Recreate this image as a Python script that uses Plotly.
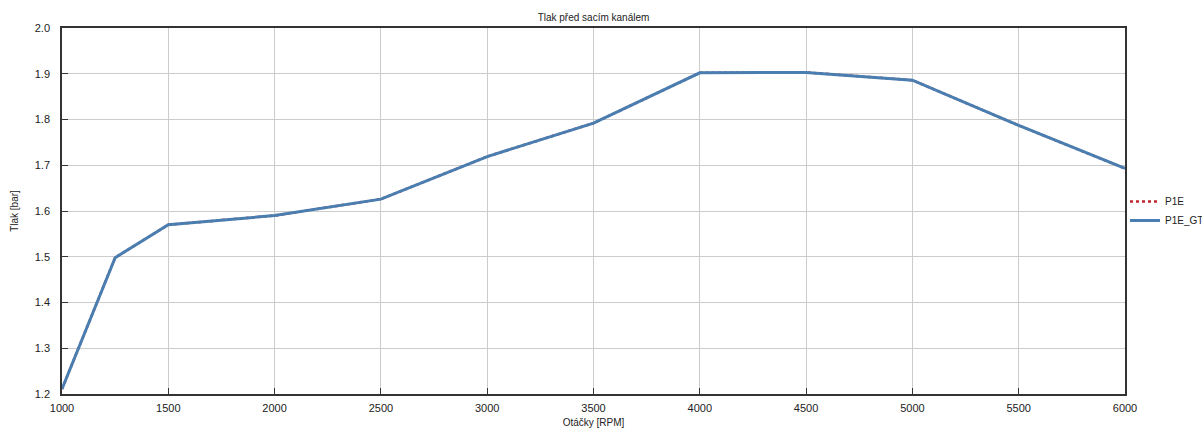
import plotly.graph_objects as go

rpm = [1000, 1250, 1500, 2000, 2500, 3000, 3500, 4000, 4500, 5000, 5500, 6000]
p1e = [1.211, 1.498, 1.570, 1.590, 1.626, 1.719, 1.792, 1.902, 1.903, 1.886, 1.787, 1.693]
p1e_gt = [1.211, 1.498, 1.570, 1.590, 1.626, 1.719, 1.792, 1.902, 1.903, 1.886, 1.787, 1.693]

x_ticks = [1000, 1500, 2000, 2500, 3000, 3500, 4000, 4500, 5000, 5500, 6000]
y_ticks = [1.2, 1.3, 1.4, 1.5, 1.6, 1.7, 1.8, 1.9, 2.0]

FONT = "Liberation Sans, Arial, sans-serif"

fig = go.Figure()
fig.add_trace(go.Scatter(x=rpm, y=p1e, mode="lines", name="P1E",
                         line=dict(color="#c0272d", width=2.5, dash="dot")))
fig.add_trace(go.Scatter(x=rpm, y=p1e_gt, mode="lines", name="P1E_GT",
                         line=dict(color="#4a7eb0", width=3)))

axis_common = dict(showgrid=True, gridcolor="#cccccc", gridwidth=1,
                   showline=True, linecolor="#333333", linewidth=1.5, mirror=True,
                   ticks="inside", ticklen=6, tickcolor="#333333", zeroline=False,
                   automargin=False,
                   tickfont=dict(family=FONT, size=11, color="#222222"))

fig.update_layout(
    width=1202, height=428,
    margin=dict(l=62, r=77, t=28, b=34, autoexpand=False),
    paper_bgcolor="white", plot_bgcolor="white",
    title=dict(text="Tlak před sacím kanálem", x=0.5, xref="paper", y=0.958, yanchor="middle",
               font=dict(family=FONT, size=10, color="#222222")),
    xaxis=dict(range=[1000, 6000], tickvals=x_ticks, ticklabelstandoff=3,
               title=dict(text="Otáčky [RPM]", standoff=7,
                          font=dict(family=FONT, size=10, color="#222222")),
               **axis_common),
    yaxis=dict(range=[1.2, 2.0], tickvals=y_ticks, tickformat=".1f", ticklabelstandoff=8,
               title=dict(text="Tlak [bar]", standoff=14,
                          font=dict(family=FONT, size=10, color="#222222")),
               **axis_common),
    legend=dict(x=1.0, xanchor="left", y=0.5, yanchor="middle", bgcolor="rgba(0,0,0,0)",
                font=dict(family=FONT, size=10, color="#222222"),
                tracegroupgap=0, itemwidth=30),
    showlegend=True,
)

fig.write_html("out.html", config={"displayModeBar": False},
               post_script="document.body.style.margin='0px';document.body.style.overflow='hidden';")
